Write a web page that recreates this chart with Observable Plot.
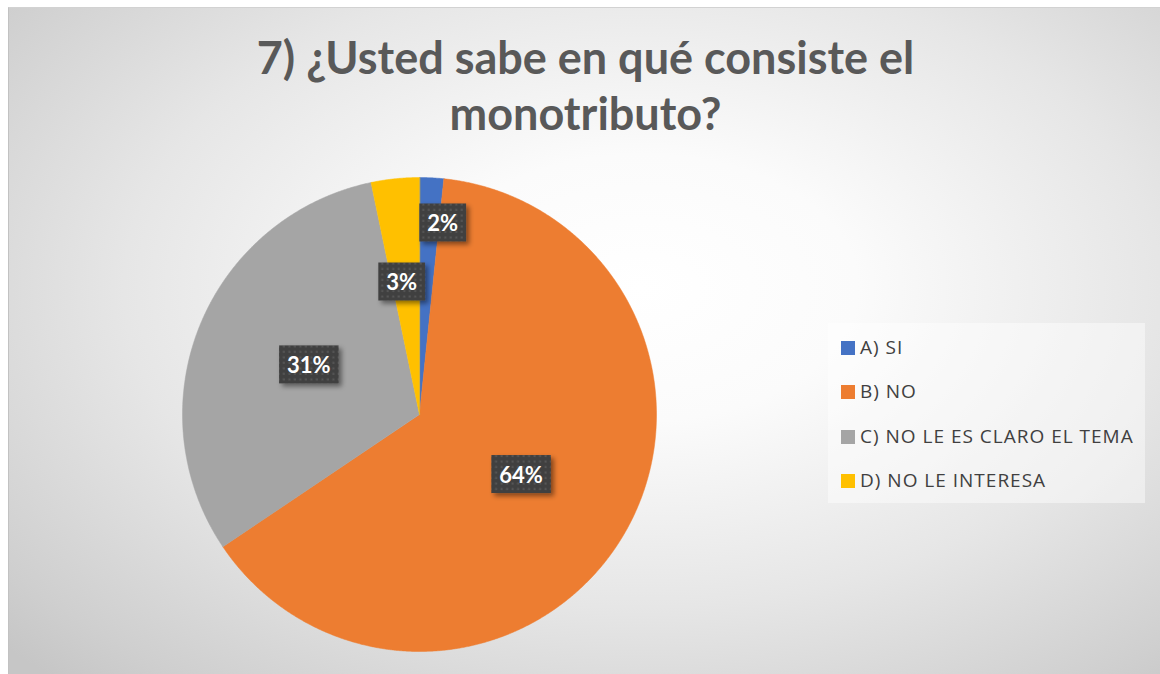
<!DOCTYPE html>
<html><head><meta charset="utf-8">
<script src="https://cdn.jsdelivr.net/npm/d3@7"></script>
<script src="https://cdn.jsdelivr.net/npm/@observablehq/plot@0.6"></script>
<style>
html,body{margin:0;padding:0;background:#fff;}
#wrap{position:relative;width:1160px;height:674px;overflow:hidden;font-family:Lato,"Open Sans",sans-serif;}
#bg{position:absolute;left:8px;top:7px;width:1152px;height:667px;box-sizing:border-box;
  border-left:1px solid #c2c2c2;border-top:1px solid #d2d2d2;
  background:radial-gradient(ellipse 75% 80% at 55% 42%, #ffffff 0%, #fbfbfb 25%, #e6e6e6 60%, #cfcfcf 90%, #c6c6c6 100%);}
#chart{position:absolute;left:0;top:0;}
#title{position:absolute;left:0;width:1171px;top:29px;text-align:center;font-weight:700;font-size:45px;line-height:56px;color:#595959;}
#legend{position:absolute;left:828px;top:323px;width:317px;height:180px;background:rgba(255,255,255,0.45);}
.li{position:absolute;left:13px;height:22px;line-height:22px;font-size:19px;letter-spacing:1px;font-family:"Open Sans",sans-serif;color:#404040;white-space:nowrap;}
.sw{display:inline-block;width:14px;height:14px;vertical-align:-1px;margin-right:5px;}
</style></head>
<body>
<div id="wrap">
  <div id="bg"></div>
  <div id="chart"></div>
  <div id="title">7) ¿Usted sabe en qué consiste el<br>monotributo?</div>
  <div id="legend"></div>
</div>
<script>
const categories = ["A) SI", "B) NO", "C) NO LE ES CLARO EL TEMA", "D) NO LE INTERESA"];
const counts = [2, 78, 38, 4];
const colors = ["#4472C4", "#ED7D31", "#A5A5A5", "#FFC000"];

// label placement (layout, not data): radius fraction and angular shift in degrees
const labelRadius = [0.81, 0.5, 0.51, 0.56];
const labelShift = [4, 0, 1.6, -1.8];

const total = d3.sum(counts);
const arcs = d3.pie().sort(null).value(d => d)(counts);

const sliceRows = [];
arcs.forEach((a, i) => {
  const cat = categories[i];
  sliceRows.push({cat, x: 0, y: 0});
  const n = Math.max(2, Math.ceil((a.endAngle - a.startAngle) / (Math.PI / 720)));
  for (let k = 0; k <= n; k++) {
    const t = a.startAngle + (a.endAngle - a.startAngle) * k / n;
    sliceRows.push({cat, x: Math.sin(t), y: Math.cos(t)});
  }
});

const labelRows = arcs.map((a, i) => {
  const mid = (a.startAngle + a.endAngle) / 2 + labelShift[i] * Math.PI / 180;
  return {
    cat: categories[i],
    x: labelRadius[i] * Math.sin(mid),
    y: labelRadius[i] * Math.cos(mid),
    text: Math.round(counts[i] / total * 100) + "%"
  };
});

const svg = Plot.plot({
  width: 1160, height: 674,
  margin: 0,
  x: {domain: [-1, 1], range: [182, 656], axis: null},
  y: {domain: [-1, 1], range: [651, 177], axis: null},
  color: {domain: categories, range: colors},
  style: {background: "transparent", overflow: "visible"},
  marks: [
    Plot.line(sliceRows, {x: "x", y: "y", z: "cat", fill: "cat", stroke: "cat", strokeWidth: 0.5, curve: "linear-closed"}),
    Plot.text(labelRows, {x: "x", y: "y", text: "text", fill: "white", fontWeight: 700, fontSize: 22, fontFamily: "Lato"})
  ]
});
document.getElementById("chart").appendChild(svg);

// data label boxes
const s = d3.select(svg);
const defs = s.insert("defs", ":first-child");
const pat = defs.append("pattern").attr("id", "dots").attr("width", 5.5).attr("height", 5.5).attr("patternUnits", "userSpaceOnUse");
pat.append("rect").attr("width", 5.5).attr("height", 5.5).attr("fill", "#404040");
pat.append("rect").attr("x", 1.5).attr("y", 1.5).attr("width", 2).attr("height", 2).attr("fill", "#575757");
const f = defs.append("filter").attr("id", "shadow").attr("x", "-30%").attr("y", "-30%").attr("width", "170%").attr("height", "180%");
f.append("feDropShadow").attr("dx", 3).attr("dy", 3).attr("stdDeviation", 2.5).attr("flood-color", "#000").attr("flood-opacity", 0.45);

s.selectAll("text").filter(function() {
  return labelRows.some(d => d.text === this.textContent);
}).each(function() {
  const b = this.getBBox();
  const cy = b.y + b.height / 2;
  const r = document.createElementNS("http://www.w3.org/2000/svg", "rect");
  r.setAttribute("x", b.x - 8); r.setAttribute("y", cy - 19);
  r.setAttribute("width", b.width + 16); r.setAttribute("height", 38);
  r.setAttribute("fill", "url(#dots)"); r.setAttribute("filter", "url(#shadow)");
  const tr = this.getAttribute("transform");
  if (tr) r.setAttribute("transform", tr);
  this.parentNode.insertBefore(r, this);
});

// legend
const lg = d3.select("#legend");
const rowCenters = [24, 68, 113, 157];
categories.forEach((c, i) => {
  const r = lg.append("div").attr("class", "li").style("top", (rowCenters[i] - 11) + "px");
  r.append("span").attr("class", "sw").style("background", colors[i]);
  r.append("span").text(c);
});
</script>
</body></html>
